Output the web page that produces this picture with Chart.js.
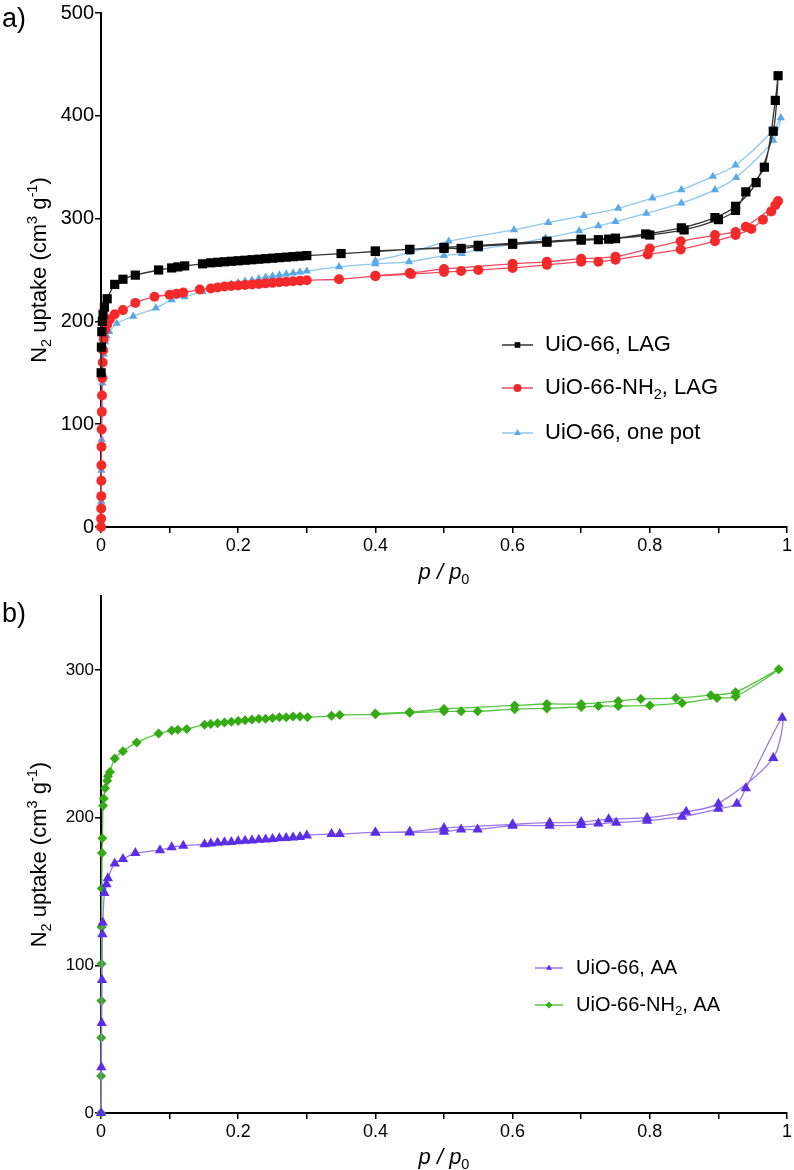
<!DOCTYPE html>
<html>
<head>
<meta charset="utf-8">
<script src="https://cdn.jsdelivr.net/npm/chart.js@4.4.1/dist/chart.umd.min.js"></script>
<style>
body { margin: 0; background: #fff; }
canvas { display: block; }
</style>
</head>
<body>
<canvas id="chartA" width="794" height="585"></canvas>
<canvas id="chartB" width="794" height="585"></canvas>
<script>
// ---- panel a) ----
// UiO-66, LAG
let lagAdsP = [0.0002,0.0006,0.0012,0.002,0.003,0.005,0.009,0.02,0.032,0.05,0.084,0.103,0.112,0.122,0.148,0.16,0.17,0.18,0.19,0.2,0.21,0.22,0.23,0.24,0.25,0.26,0.27,0.28,0.29,0.3,0.35,0.4,0.45,0.5,0.525,0.55,0.6,0.65,0.7,0.725,0.74,0.75,0.8,0.85,0.9,0.925,0.94,0.967,0.983,0.987];
let lagAdsV = [150,175,190,200,207,214,222,236,241,245,250,252,253,254,256,257,257.5,258,258.5,259,259.5,260,260.5,261,261.5,262,262.5,263,263.5,264,266,268,270,271,271,273,275,277,279,279.5,280,280.5,284,289,299,308,326,350,415,439];
let lagDesP = [0.98,0.955,0.925,0.895,0.846,0.794,0.75,0.7,0.65,0.6,0.55,0.5,0.45,0.4];
let lagDesV = [385,335,312,301,291,285,281,280,278,276,274,272,270,268.5];

// UiO-66-NH2, LAG
let nh2AdsP = [0.0001,0.0002,0.0003,0.0004,0.0005,0.0006,0.0008,0.001,0.0012,0.0015,0.002,0.0025,0.003,0.004,0.006,0.009,0.013,0.02,0.032,0.05,0.078,0.1,0.11,0.12,0.144,0.16,0.17,0.18,0.19,0.2,0.21,0.22,0.23,0.24,0.25,0.26,0.27,0.28,0.29,0.3,0.347,0.4,0.452,0.5,0.525,0.55,0.6,0.65,0.7,0.725,0.75,0.797,0.845,0.895,0.925,0.948,0.965,0.977,0.987];
let nh2AdsV = [0,8,18,30,45,60,78,95,112,128,145,160,172,183,192,197,202,207,211,218,224,226,227,228,231,232,233,234,234.5,235,235.5,236,236.5,237,237.5,238,238.5,239,239.5,240,241,244,246,248,249,250,252,255,258,258,260,265,270,278,284,290,299,307,317];
let nh2DesP = [0.983,0.94,0.925,0.895,0.845,0.8,0.75,0.7,0.65,0.6,0.5,0.45,0.4];
let nh2DesV = [313,292,287,284,278,271,263,261,258,256,251,247,244.5];

// UiO-66, one pot
let potAdsP = [0.0003,0.0006,0.001,0.0015,0.002,0.0025,0.003,0.004,0.005,0.006,0.008,0.012,0.023,0.047,0.08,0.103,0.122,0.148,0.16,0.17,0.18,0.19,0.2,0.21,0.22,0.23,0.24,0.25,0.26,0.27,0.28,0.29,0.3,0.347,0.4,0.449,0.5,0.526,0.551,0.6,0.648,0.697,0.725,0.75,0.795,0.846,0.895,0.926,0.98,0.991];
let potAdsV = [25,55,85,115,140,150,160,168,175,180,186,190,198,205,213,221,224,229,231,233,234.5,236,237.5,239,240,241.5,243,244,245,246,247,248,249,253,256,258,264,266,270,275,281,288,293,297,305,315,328,340,376,398];
let potDesP = [0.98,0.925,0.892,0.846,0.804,0.754,0.704,0.652,0.602,0.507,0.45,0.4];
let potDesV = [386,352,341,328,320,310,303,296,289,278,267,259];

// ---- panel b) ----
// UiO-66, AA
let aaAdsP = [0,0.0005,0.001,0.0015,0.002,0.0025,0.005,0.008,0.01,0.02,0.032,0.05,0.086,0.103,0.12,0.151,0.16,0.17,0.18,0.19,0.2,0.21,0.22,0.23,0.24,0.25,0.26,0.27,0.28,0.29,0.3,0.336,0.348,0.4,0.45,0.5,0.525,0.549,0.6,0.654,0.7,0.725,0.751,0.796,0.847,0.9,0.927,0.94,0.993];
let aaAdsV = [0,31,61,90,121,129,149,155,159,169,172,176,178,180,181,182,182.5,183,183.3,183.6,184,184.3,184.6,185,185.3,185.6,186,186.3,186.6,187,188,189,189,190,190,190.5,192,192,194.6,194.6,195,196,196.6,198,200.7,206,209.5,220,267.6];
let aaDesP = [0.98,0.9,0.853,0.796,0.74,0.7,0.654,0.6,0.5,0.45,0.4];
let aaDesV = [240.5,209.5,204,200,199,197,196.6,195.5,193,190.5,190];

// UiO-66-NH2, AA
let aaNAdsP = [0,0.0002,0.0004,0.0006,0.0008,0.001,0.0012,0.0015,0.002,0.003,0.004,0.006,0.009,0.01,0.013,0.02,0.032,0.052,0.084,0.103,0.112,0.125,0.151,0.16,0.17,0.18,0.19,0.2,0.21,0.22,0.23,0.24,0.25,0.26,0.27,0.28,0.29,0.301,0.336,0.348,0.4,0.45,0.5,0.525,0.549,0.603,0.65,0.7,0.725,0.754,0.8,0.847,0.898,0.925,0.988];
let aaNAdsV = [0,25,51,76,101,126,152,176,186,208,213,220,225,228,231,240,245,251,257,259,259.5,260,263,263.5,264,264.5,265,265.5,266,266.5,267,267,267.5,268,268,268.5,268.5,268,269,269.6,270,271,272,272,272,273.5,274,275,275.6,275.6,276,277.7,281,282,300.6];
let aaNDesP = [0.925,0.889,0.838,0.787,0.754,0.7,0.65,0.603,0.5,0.45,0.4];
let aaNDesV = [285,283,281,280.4,279,277,277,276,273.6,271.5,270.5];

const FONT = "'Liberation Sans', Arial, 'DejaVu Sans', sans-serif";

function pts(ap, av, dp, dv) {
	let out = [];
	ap.forEach((p, i) => out.push({x: p, y: av[i]}));
	dp.forEach((p, i) => out.push({x: p, y: dv[i]}));
	return out;
}

function series(label, data, line, fill, style, radius) {
	return {
		label: label,
		data: data,
		showLine: true,
		borderColor: line,
		borderWidth: 1.3,
		tension: 0.3,
		pointStyle: style,
		pointRadius: radius,
		pointBackgroundColor: fill,
		pointBorderColor: fill,
		pointBorderWidth: 0,
		clip: false
	};
}

// text with sub/superscripts: parts = [[text, kind]]
function drawRich(ctx, parts, x, y, size, align, italic) {
	let fontFor = k => (italic ? 'italic ' : '') + (k ? size * 0.66 : size) + 'px ' + FONT;
	let total = 0;
	parts.forEach(p => { ctx.font = fontFor(p[1]); total += ctx.measureText(p[0]).width; });
	let cx = align === 'center' ? x - total / 2 : x;
	ctx.textAlign = 'left';
	ctx.textBaseline = 'middle';
	parts.forEach(p => {
		ctx.font = fontFor(p[1]);
		let dy = p[1] === 'sub' ? size * 0.3 : (p[1] === 'sup' ? -size * 0.3 : 0);
		if (p[1] === 'sub' && italic) ctx.font = size * 0.66 + 'px ' + FONT;
		ctx.fillText(p[0], cx, y + dy);
		cx += ctx.measureText(p[0]).width;
	});
}

const yTitle = [['N', ''], ['2', 'sub'], [' uptake (cm', ''], ['3', 'sup'], [' g', ''], ['-1', 'sup'], [')', '']];
const xTitle = [['p / p', ''], ['0', 'sub']];

const decor = {
	id: 'decor',
	afterDraw(chart, args, opts) {
		const ctx = chart.ctx;
		const a = chart.chartArea;
		ctx.save();
		ctx.fillStyle = '#000';
		// panel letter
		ctx.font = '27px ' + FONT;
		ctx.textAlign = 'left';
		ctx.textBaseline = 'middle';
		ctx.fillText(opts.panel, 2, opts.panelY);
		// axis titles
		drawRich(ctx, xTitle, (a.left + a.right) / 2, opts.xTitleY, 22, 'center', true);
		ctx.save();
		ctx.translate(40, (a.top + a.bottom) / 2);
		ctx.rotate(-Math.PI / 2);
		drawRich(ctx, yTitle, 0, 0, 22, 'center', false);
		ctx.restore();
		// legend
		chart.data.datasets.forEach((ds, i) => {
			let y = opts.rows[i];
			ctx.strokeStyle = ds.borderColor;
			ctx.lineWidth = 1.5;
			ctx.beginPath();
			ctx.moveTo(opts.lx1, y);
			ctx.lineTo(opts.lx2, y);
			ctx.stroke();
			ctx.fillStyle = ds.pointBackgroundColor;
			Chart.helpers.drawPoint(ctx, {pointStyle: ds.pointStyle, radius: opts.mr, rotation: 0, borderWidth: 0}, (opts.lx1 + opts.lx2) / 2, y);
			ctx.fillStyle = '#000';
			drawRich(ctx, opts.labels[i], opts.tx, y, opts.size, 'left', false);
		});
		ctx.restore();
	}
};

function makeConfig(sets, yMax, yFont, xH, deco) {
	return {
		type: 'scatter',
		data: {datasets: sets},
		options: {
			responsive: false,
			animation: false,
			layout: {padding: {top: 10, right: 5, left: 0, bottom: 0}},
			plugins: {legend: {display: false}, tooltip: {enabled: false}, decor: deco},
			scales: {
				x: {
					type: 'linear', min: 0, max: 1,
					ticks: {
						stepSize: 0.1, autoSkip: false, maxRotation: 0, color: '#000', padding: 2,
						font: {size: 18, family: FONT},
						callback: function(v) {
							let t = Math.round(v * 10);
							if (t % 2 !== 0) return '';
							return t === 0 ? '0' : (t === 10 ? '1' : (t / 10).toFixed(1));
						}
					},
					grid: {drawOnChartArea: false, color: '#000', tickLength: 6, lineWidth: 1.5},
					border: {color: '#000', width: 2},
					afterFit: s => { s.height = xH; }
				},
				y: {
					type: 'linear', min: 0, max: yMax,
					ticks: {stepSize: 100, color: '#000', padding: 1, font: {size: yFont, family: FONT}},
					afterBuildTicks: s => { s.ticks = s.ticks.filter(t => t.value % 100 === 0); },
					grid: {drawOnChartArea: false, color: '#000', tickLength: 6, lineWidth: 1.5},
					border: {color: '#000', width: 2},
					afterFit: s => { s.width = 101; }
				}
			}
		},
		plugins: [decor]
	};
}

const setsA = [
	series('UiO-66, LAG', pts(lagAdsP, lagAdsV, lagDesP, lagDesV), '#333333', '#000000', 'rect', 6.5),
	series('UiO-66-NH2, LAG', pts(nh2AdsP, nh2AdsV, nh2DesP, nh2DesV), '#f2485e', '#f42a2a', 'circle', 5),
	series('UiO-66, one pot', pts(potAdsP, potAdsV, potDesP, potDesV), '#8cc8f0', '#5aa8e6', 'triangle', 4.8)
];

const setsB = [
	series('UiO-66, AA', pts(aaAdsP, aaAdsV, aaDesP, aaDesV), '#9a78e6', '#5a2fe6', 'triangle', 6),
	series('UiO-66-NH2, AA', pts(aaNAdsP, aaNAdsV, aaNDesP, aaNDesV), '#55c640', '#35aa14', 'rectRot', 5)
];

const chartA = new Chart(document.getElementById('chartA'), makeConfig(setsA, 500, 20, 58, {
	panel: 'a)', panelY: 20, xTitleY: 573,
	rows: [345, 388, 433], lx1: 502, lx2: 533, tx: 545, size: 22, mr: 4,
	labels: [
		[['UiO-66, LAG', '']],
		[['UiO-66-NH', ''], ['2', 'sub'], [', LAG', '']],
		[['UiO-66, one pot', '']]
	]
}));

const chartB = new Chart(document.getElementById('chartB'), makeConfig(setsB, 350, 17, 57, {
	panel: 'b)', panelY: 30, xTitleY: 573,
	rows: [383, 420], lx1: 535, lx2: 563, tx: 576, size: 20, mr: 3.5,
	labels: [
		[['UiO-66, AA', '']],
		[['UiO-66-NH', ''], ['2', 'sub'], [', AA', '']]
	]
}));
</script>
</body>
</html>
